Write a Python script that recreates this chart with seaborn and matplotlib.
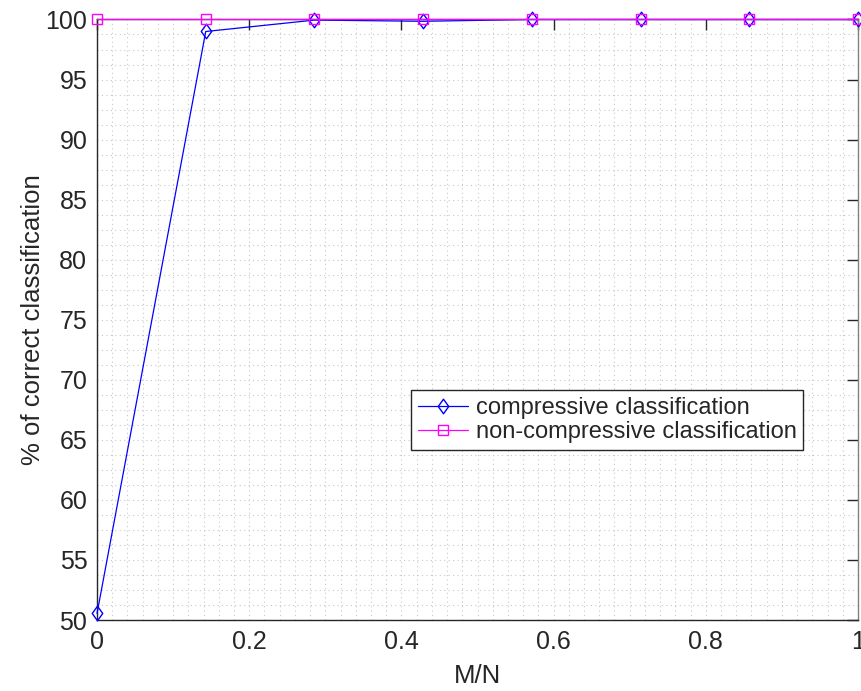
import numpy as np
import pandas as pd
import matplotlib
matplotlib.use("Agg")
import matplotlib.pyplot as plt
from matplotlib.ticker import MultipleLocator, FuncFormatter
from matplotlib.path import Path
import seaborn as sns

# data
m_over_n = [0, 1/7, 2/7, 3/7, 4/7, 5/7, 6/7, 1]
compressive = [50.55, 99.0, 99.95, 99.85, 100, 100, 100, 100]
non_compressive = [100, 100, 100, 100, 100, 100, 100, 100]
series_labels = ["compressive classification", "non-compressive classification"]
xlabel = "M/N"
ylabel = "% of correct classification"

sns.set_style("white")
plt.rcParams['font.family'] = ['Liberation Sans', 'DejaVu Sans']

diamond = Path([(0, 1), (0.72, 0), (0, -1), (-0.72, 0), (0, 1)],
               [Path.MOVETO, Path.LINETO, Path.LINETO, Path.LINETO, Path.CLOSEPOLY])

fig = plt.figure(figsize=(8.61, 6.91), dpi=100)
ax = fig.add_axes([0.1127, 0.1027, 0.8838, 0.8691])

df_c = pd.DataFrame({"x": m_over_n, "y": compressive})
df_n = pd.DataFrame({"x": m_over_n, "y": non_compressive})

sns.lineplot(data=df_c, x="x", y="y", ax=ax, color=(0, 0, 1), marker=diamond,
             markersize=10.5, markerfacecolor="none", markeredgecolor=(0, 0, 1),
             markeredgewidth=1.0, linewidth=0.9, label=series_labels[0],
             clip_on=False, zorder=3)
sns.lineplot(data=df_n, x="x", y="y", ax=ax, color=(1, 0, 1), marker="s",
             markersize=6.5, markerfacecolor="none", markeredgecolor=(1, 0, 1),
             markeredgewidth=1.0, linewidth=0.9, label=series_labels[1],
             clip_on=False, zorder=4)

ax.set_xlim(0, 1)
ax.set_ylim(50, 100)
ax.xaxis.set_major_locator(MultipleLocator(0.2))
ax.yaxis.set_major_locator(MultipleLocator(5))
ax.xaxis.set_minor_locator(MultipleLocator(0.02))
ax.yaxis.set_minor_locator(MultipleLocator(1.25))
ax.xaxis.set_major_formatter(FuncFormatter(lambda v, p: f"{v:.1f}".rstrip("0").rstrip(".") if abs(v) > 1e-9 else "0"))

ax.grid(which="both", linestyle=(0, (1, 3)), color="#c8c8c8", linewidth=0.8)
ax.set_axisbelow(True)

ax.tick_params(which="major", direction="in", length=8, width=1.0,
               top=True, right=True, labelsize=18, colors="#262626", pad=7)
ax.tick_params(which="minor", length=0)
for s in ax.spines.values():
    s.set_color("#262626")
    s.set_linewidth(1.0)
ax.spines["right"].set_color("#808080")

ax.set_xlabel(xlabel, fontsize=18.5, color="#262626", labelpad=7.5)
ax.set_ylabel(ylabel, fontsize=18.5, color="#262626", labelpad=0)

leg = ax.legend(loc="lower left", bbox_to_anchor=(0.413, 0.283),
                fontsize=17, frameon=True, fancybox=False, handlelength=2.1,
                borderpad=0.28, labelspacing=0.1, handletextpad=0.35,
                borderaxespad=0)
leg.get_frame().set_edgecolor("#262626")
leg.get_frame().set_linewidth(1.0)
leg.get_frame().set_alpha(1)

fig.savefig("out.png", dpi=100)
